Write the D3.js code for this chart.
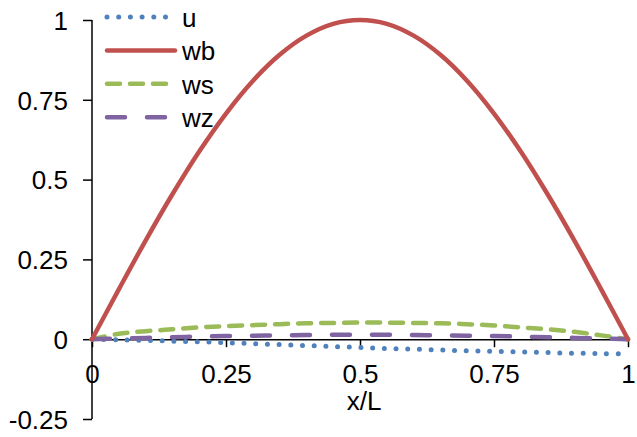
<!DOCTYPE html>
<html>
<head>
    <meta charset="utf-8">
    <title>x/L</title>
    <script src="https://cdnjs.cloudflare.com/ajax/libs/d3/7.8.5/d3.min.js"></script>
    <style>
        body { margin: 0; background: #fff; }
        text { font-family: "Liberation Sans", Arial, sans-serif; font-size: 26px; fill: #000; }
        .axis path, .axis line { stroke: #000; stroke-width: 1.5px; }
    </style>
</head>
<body>
    <svg id="chart" width="637" height="437"></svg>
    <script>
        // positions along the beam, x/L
        var xs = [0, 0.05, 0.1, 0.15, 0.2, 0.25, 0.3, 0.35, 0.4, 0.45, 0.5,
                  0.55, 0.6, 0.65, 0.7, 0.75, 0.8, 0.85, 0.9, 0.95, 1];

        var u = [0, -0.002, -0.004, -0.006, -0.008, -0.011, -0.014, -0.017, -0.020, -0.023, -0.026,
                 -0.029, -0.031, -0.034, -0.036, -0.038, -0.040, -0.042, -0.044, -0.045, -0.046];
        var wb = [0, 0.156, 0.309, 0.454, 0.588, 0.707, 0.809, 0.891, 0.951, 0.988, 1,
                  0.988, 0.951, 0.891, 0.809, 0.707, 0.588, 0.454, 0.309, 0.156, 0];
        var ws = [0, 0.017, 0.025, 0.031, 0.037, 0.041, 0.044, 0.047, 0.050, 0.051, 0.052,
                  0.052, 0.051, 0.050, 0.047, 0.043, 0.037, 0.031, 0.023, 0.012, 0];
        var wz = [0, 0.002, 0.004, 0.006, 0.008, 0.010, 0.011, 0.012, 0.013, 0.014, 0.014,
                  0.014, 0.013, 0.012, 0.011, 0.010, 0.008, 0.006, 0.004, 0.002, 0];

        var seriesNames = ["u", "wb", "ws", "wz"];
        var xTicks = [0, 0.25, 0.5, 0.75, 1];
        var yTicks = [-0.25, 0, 0.25, 0.5, 0.75, 1];

        var styles = {
            u:  { color: "#4f81bd", dash: "0,11.7" },
            wb: { color: "#c0504d", dash: null },
            ws: { color: "#9bbb59", dash: "13,10" },
            wz: { color: "#8064a2", dash: "18,22" }
        };

        var series = seriesNames.map(function(name) {
            var vals = { u: u, wb: wb, ws: ws, wz: wz }[name];
            return { name: name, values: xs.map(function(x, i) { return [x, vals[i]]; }) };
        });

        var svg = d3.select("#chart");

        var x = d3.scaleLinear().domain([0, 1]).range([92, 628]);
        var y = d3.scaleLinear().domain([-0.25, 1]).range([419, 20]);

        // plain hyphen for negatives, like the original
        var fmt = function(d) { return String(d); };

        // y axis, ticks pointing outward
        svg.append("g")
            .attr("class", "axis")
            .attr("transform", "translate(" + x(0) + ",0)")
            .call(d3.axisLeft(y).tickValues(yTicks).tickSize(9).tickSizeOuter(0).tickPadding(15).tickFormat(fmt))
            .call(function(g) { g.selectAll("text").style("font-size", "26px").attr("dy", "0.36em").attr("fill", "#000"); })
            .call(function(g) { g.select(".domain").attr("d", "M0," + y(-0.25) + "V" + y(1)); });

        // x axis sits on y = 0
        svg.append("g")
            .attr("class", "axis")
            .attr("transform", "translate(0," + y(0) + ")")
            .call(d3.axisBottom(x).tickValues(xTicks).tickSize(8).tickSizeOuter(0).tickPadding(17).tickFormat(fmt))
            .call(function(g) { g.selectAll("text").style("font-size", "26px").attr("fill", "#000"); });

        svg.append("text")
            .attr("x", (x(0) + x(1)) / 2 + 4)
            .attr("y", 410)
            .attr("text-anchor", "middle")
            .text("x/L");

        var line = d3.line()
            .x(function(d) { return x(d[0]); })
            .y(function(d) { return y(d[1]); })
            .curve(d3.curveCatmullRom);

        // wb drawn last so it sits on top at the ends
        var drawOrder = ["u", "ws", "wz", "wb"];
        drawOrder.forEach(function(name) {
            var s = series.filter(function(d) { return d.name === name; })[0];
            svg.append("path")
                .datum(s.values)
                .attr("d", line)
                .attr("fill", "none")
                .attr("stroke", styles[name].color)
                .attr("stroke-width", name === "u" ? 5 : 4.5)
                .attr("stroke-linecap", "round")
                .attr("stroke-dasharray", styles[name].dash);
        });

        // legend
        var legend = svg.append("g")
            .selectAll("g")
            .data(seriesNames)
            .enter().append("g")
            .attr("transform", function(d, i) { return "translate(0," + (17 + i * 33.4) + ")"; });

        legend.append("line")
            .attr("x1", 107).attr("x2", 175)
            .attr("y1", 0).attr("y2", 0)
            .attr("stroke", function(d) { return styles[d].color; })
            .attr("stroke-width", function(d) { return d === "u" ? 5 : 4.5; })
            .attr("stroke-linecap", "round")
            .attr("stroke-dasharray", function(d) { return styles[d].dash; });

        legend.append("text")
            .attr("x", 182)
            .attr("y", 10)
            .text(function(d) { return d; });
    </script>
</body>
</html>
